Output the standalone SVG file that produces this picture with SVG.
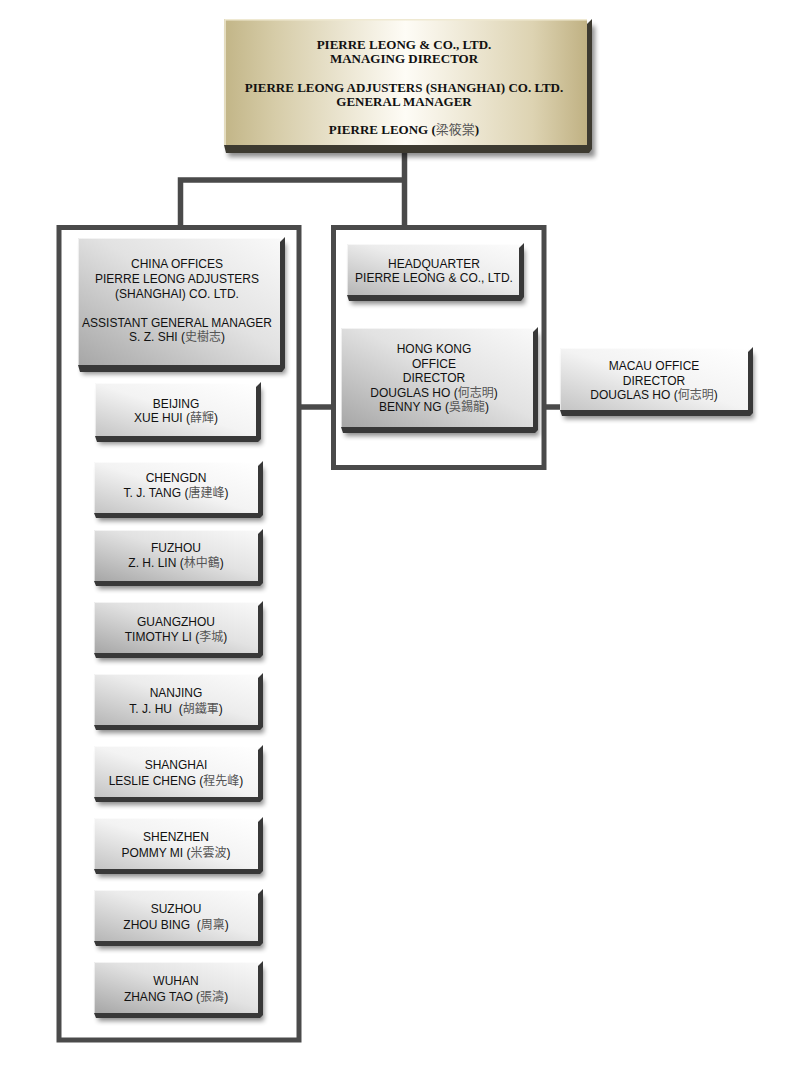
<svg xmlns="http://www.w3.org/2000/svg" width="800" height="1080" viewBox="0 0 800 1080">
<defs>
<filter id="blur" x="-10%" y="-30%" width="125%" height="170%"><feGaussianBlur stdDeviation="2.6"/></filter>
<linearGradient id="gold" x1="0" y1="0" x2="1" y2="0">
<stop offset="0" stop-color="#c2b587"/>
<stop offset="0.14" stop-color="#d6cca8"/>
<stop offset="0.5" stop-color="#fefcf6"/>
<stop offset="0.85" stop-color="#ddd3b2"/>
<stop offset="1" stop-color="#c0b183"/>
</linearGradient>
<linearGradient id="gD" x1="0" y1="1" x2="1" y2="0">
<stop offset="0" stop-color="#a6a6a6"/>
<stop offset="0.55" stop-color="#e2e2e2"/>
<stop offset="1" stop-color="#f9f9f9"/>
</linearGradient>
<linearGradient id="gM" x1="0" y1="1" x2="1" y2="0">
<stop offset="0" stop-color="#b6b6b6"/>
<stop offset="0.55" stop-color="#ececec"/>
<stop offset="1" stop-color="#fcfcfc"/>
</linearGradient>
<linearGradient id="gL" x1="0" y1="1" x2="1" y2="0">
<stop offset="0" stop-color="#c4c4c4"/>
<stop offset="0.5" stop-color="#f3f3f3"/>
<stop offset="1" stop-color="#ffffff"/>
</linearGradient>
<style>
.sh{fill:#000;opacity:.45;filter:url(#blur)}
.bev{fill:#383838}
.bevg{fill:#3d3a30}
.hl{fill:none;stroke:#ffffff;stroke-opacity:.6;stroke-width:1}
.frame{fill:#ffffff;stroke:#4a4a4a;stroke-width:5}
.t{font-family:"Liberation Sans",Arial,"Noto Sans CJK TC",sans-serif;font-size:12px;text-anchor:middle;fill:#111;white-space:pre}
.tt{font-family:"Liberation Serif","Times New Roman","Noto Sans CJK TC",serif;font-size:13px;font-weight:bold;text-anchor:middle;fill:#111}
.cj{font-family:"Noto Sans CJK TC",sans-serif;fill:#555;font-weight:normal}
</style>
</defs>
<rect width="800" height="1080" fill="#ffffff"/>

<g id="china-offices-frame"><rect class="frame" x="59" y="227.5" width="240" height="812.5"/></g>
<g id="hong-kong-frame"><rect class="frame" x="333.5" y="227.5" width="210.5" height="240"/></g>

<g id="connectors" fill="none" stroke="#4a4a4a" stroke-width="5.5">
<path d="M404.5 150 V227.5"/>
<path d="M404.5 180 H180.5 V227.5"/>
<path d="M299 407 H333.5"/>
<path d="M544 407 H561"/>
</g>

<g id="managing-director">
<rect class="sh" x="228" y="26" width="367" height="131"/>
<polygon class="bevg" points="587,24 592,19 592,149 589,153 226,153 224,145 587,145"/>
<rect x="224" y="19" width="363" height="126" fill="url(#gold)"/>
<polyline fill="none" stroke="#efe9d2" stroke-width="1.5" points="225,145 225,19.8 587,19.8"/>
<text class="tt" x="404" y="49">PIERRE LEONG &amp; CO., LTD.</text>
<text class="tt" x="404" y="63">MANAGING DIRECTOR</text>
<text class="tt" x="404" y="92">PIERRE LEONG ADJUSTERS (SHANGHAI) CO. LTD.</text>
<text class="tt" x="404" y="106">GENERAL MANAGER</text>
<text class="tt" x="404" y="134">PIERRE LEONG (<tspan class="cj">梁筱棠</tspan>)</text>
</g>

<g id="china-offices">
<rect class="sh" x="82" y="244" width="204" height="130"/>
<polygon class="bev" points="280,242 285,237 285,368 282,372 80,372 78,365 280,365"/>
<rect x="78" y="238" width="202" height="127" fill="url(#gD)"/>
<polyline class="hl" points="78.5,365 78.5,238.5 280,238.5"/>
<text class="t" x="177" y="268">CHINA OFFICES</text>
<text class="t" x="177" y="283">PIERRE LEONG ADJUSTERS</text>
<text class="t" x="177" y="297.5">(SHANGHAI) CO. LTD.</text>
<text class="t" x="177" y="326.5">ASSISTANT GENERAL MANAGER</text>
<text class="t" x="177" y="341">S. Z. SHI (<tspan class="cj">史樹志</tspan>)</text>
</g>

<g id="beijing">
<rect class="sh" x="99" y="389" width="163" height="55"/>
<polygon class="bev" points="256,387 261,382 261,439 258,442 97,442 95,436 256,436"/>
<rect x="95" y="383" width="161" height="53" fill="url(#gL)"/>
<polyline class="hl" points="95.5,436 95.5,383.5 256,383.5"/>
<text class="t" x="176" y="407.5">BEIJING</text>
<text class="t" x="176" y="421.5">XUE HUI (<tspan class="cj">薛輝</tspan>)</text>
</g>

<g id="chengdn">
<rect class="sh" x="98" y="468" width="166" height="53"/>
<polygon class="bev" points="258,466 263,461 263,515 260,518 96,518 94,513 258,513"/>
<rect x="94" y="462" width="164" height="51" fill="url(#gL)"/>
<polyline class="hl" points="94.5,513 94.5,462.5 258,462.5"/>
<text class="t" x="176" y="482">CHENGDN</text>
<text class="t" x="176" y="496.5">T. J. TANG (<tspan class="cj">唐建峰</tspan>)</text>
</g>

<g id="fuzhou">
<rect class="sh" x="98" y="536" width="166" height="53"/>
<polygon class="bev" points="258,534 263,529 263,583 260,586 96,586 94,581 258,581"/>
<rect x="94" y="530" width="164" height="51" fill="url(#gD)"/>
<polyline class="hl" points="94.5,581 94.5,530.5 258,530.5"/>
<text class="t" x="176" y="552">FUZHOU</text>
<text class="t" x="176" y="566.5">Z. H. LIN (<tspan class="cj">林中鶴</tspan>)</text>
</g>

<g id="guangzhou">
<rect class="sh" x="98" y="608" width="166" height="53"/>
<polygon class="bev" points="258,606 263,601 263,655 260,658 96,658 94,653 258,653"/>
<rect x="94" y="602" width="164" height="51" fill="url(#gD)"/>
<polyline class="hl" points="94.5,653 94.5,602.5 258,602.5"/>
<text class="t" x="176" y="626">GUANGZHOU</text>
<text class="t" x="176" y="641">TIMOTHY LI (<tspan class="cj">李城</tspan>)</text>
</g>

<g id="nanjing">
<rect class="sh" x="98" y="680" width="166" height="53"/>
<polygon class="bev" points="258,678 263,673 263,727 260,730 96,730 94,725 258,725"/>
<rect x="94" y="674" width="164" height="51" fill="url(#gM)"/>
<polyline class="hl" points="94.5,725 94.5,674.5 258,674.5"/>
<text class="t" x="176" y="697">NANJING</text>
<text class="t" x="176" y="712.5">T. J. HU  (<tspan class="cj">胡鐵軍</tspan>)</text>
</g>

<g id="shanghai">
<rect class="sh" x="98" y="752" width="166" height="53"/>
<polygon class="bev" points="258,750 263,745 263,799 260,802 96,802 94,797 258,797"/>
<rect x="94" y="746" width="164" height="51" fill="url(#gL)"/>
<polyline class="hl" points="94.5,797 94.5,746.5 258,746.5"/>
<text class="t" x="176" y="769">SHANGHAI</text>
<text class="t" x="176" y="784.5">LESLIE CHENG (<tspan class="cj">程先峰</tspan>)</text>
</g>

<g id="shenzhen">
<rect class="sh" x="98" y="824" width="166" height="53"/>
<polygon class="bev" points="258,822 263,817 263,871 260,874 96,874 94,869 258,869"/>
<rect x="94" y="818" width="164" height="51" fill="url(#gL)"/>
<polyline class="hl" points="94.5,869 94.5,818.5 258,818.5"/>
<text class="t" x="176" y="841">SHENZHEN</text>
<text class="t" x="176" y="856.5">POMMY MI (<tspan class="cj">米雲波</tspan>)</text>
</g>

<g id="suzhou">
<rect class="sh" x="98" y="896" width="166" height="53"/>
<polygon class="bev" points="258,894 263,889 263,943 260,946 96,946 94,941 258,941"/>
<rect x="94" y="890" width="164" height="51" fill="url(#gM)"/>
<polyline class="hl" points="94.5,941 94.5,890.5 258,890.5"/>
<text class="t" x="176" y="913">SUZHOU</text>
<text class="t" x="176" y="928.5">ZHOU BING  (<tspan class="cj">周稟</tspan>)</text>
</g>

<g id="wuhan">
<rect class="sh" x="98" y="968" width="166" height="53"/>
<polygon class="bev" points="258,966 263,961 263,1015 260,1018 96,1018 94,1013 258,1013"/>
<rect x="94" y="962" width="164" height="51" fill="url(#gD)"/>
<polyline class="hl" points="94.5,1013 94.5,962.5 258,962.5"/>
<text class="t" x="176" y="985">WUHAN</text>
<text class="t" x="176" y="1000.5">ZHANG TAO (<tspan class="cj">張濤</tspan>)</text>
</g>

<g id="headquarter">
<rect class="sh" x="351" y="250" width="174" height="54"/>
<polygon class="bev" points="519,248 524,243 524,297 521,301 349,301 347,295 519,295"/>
<rect x="347" y="244" width="172" height="51" fill="url(#gM)"/>
<polyline class="hl" points="347.5,295 347.5,244.5 519,244.5"/>
<text class="t" x="434" y="268">HEADQUARTER</text>
<text class="t" x="434" y="282">PIERRE LEONG &amp; CO., LTD.</text>
</g>

<g id="hong-kong-office">
<rect class="sh" x="345" y="334" width="194" height="102"/>
<polygon class="bev" points="533,332 538,327 538,430 535,433 343,433 341,427 533,427"/>
<rect x="341" y="328" width="192" height="99" fill="url(#gD)"/>
<polyline class="hl" points="341.5,427 341.5,328.5 533,328.5"/>
<text class="t" x="434" y="353">HONG KONG</text>
<text class="t" x="434" y="367.5">OFFICE</text>
<text class="t" x="434" y="381.5">DIRECTOR</text>
<text class="t" x="434" y="396.5">DOUGLAS HO (<tspan class="cj">何志明</tspan>)</text>
<text class="t" x="434" y="410.5">BENNY NG (<tspan class="cj">吳錫龍</tspan>)</text>
</g>

<g id="macau-office">
<rect class="sh" x="564" y="354" width="190" height="65"/>
<polygon class="bev" points="748,352 753,347 753,413 750,416 562,416 560,410 748,410"/>
<rect x="560" y="348" width="188" height="62" fill="url(#gL)"/>
<polyline class="hl" points="560.5,410 560.5,348.5 748,348.5"/>
<text class="t" x="654" y="370">MACAU OFFICE</text>
<text class="t" x="654" y="384.5">DIRECTOR</text>
<text class="t" x="654" y="399">DOUGLAS HO (<tspan class="cj">何志明</tspan>)</text>
</g>
</svg>
